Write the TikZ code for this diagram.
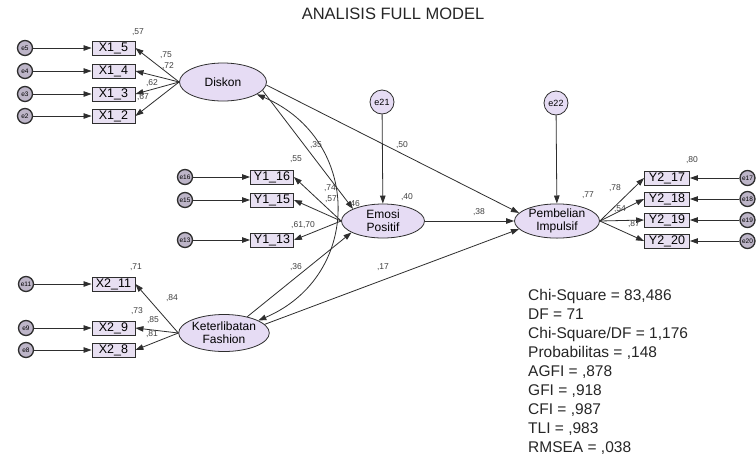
\documentclass[tikz,border=0pt]{standalone}
\usepackage{fontspec}
\setmainfont{Liberation Sans}
\usetikzlibrary{arrows.meta,shapes.geometric}

\definecolor{ink}{HTML}{2E2E2E}
\definecolor{boxfill}{HTML}{E8E0F2}
\definecolor{latfill}{HTML}{E6DCF4}
\definecolor{errfill}{HTML}{BDB5C8}

\tikzset{
  ind/.style={draw=ink, fill=boxfill, line width=0.9pt, minimum width=43pt,
    minimum height=14pt, inner sep=0pt, font=\fontsize{12.5}{12.5}\selectfont},
  lat/.style={ellipse, draw=ink, fill=latfill, line width=0.8pt, inner sep=0pt,
    align=center, font=\fontsize{12}{13}\selectfont},
  err/.style={circle, draw=ink, fill=errfill, line width=1.3pt, minimum size=15pt,
    inner sep=0pt, font=\fontsize{6.5}{6.5}\selectfont},
  dist/.style={circle, draw=ink, fill=latfill, line width=0.8pt, minimum size=24pt,
    inner sep=0pt, font=\fontsize{9}{9}\selectfont},
  coef/.style={font=\fontsize{8.5}{8.5}\selectfont, text=black!75, inner sep=0pt},
  tip/.tip={Triangle[length=8pt,width=5.5pt]},
  reg/.style={draw=ink, line width=0.8pt, -tip},
  cov/.style={draw=ink, line width=0.8pt, tip-tip},
}

\begin{document}
\begin{tikzpicture}[x=1pt,y=-1pt]
\useasboundingbox (0,0) rectangle (756,456);
\fill[white] (0,0) rectangle (756,456);

% title
\node[font=\fontsize{16.5}{16.5}\selectfont, text=black!85] (title) at (393,14) {ANALISIS FULL MODEL};

% latent variables
\node[lat, minimum width=87pt, minimum height=38pt] (dis) at (223,82) {Diskon};
\node[lat, minimum width=83pt, minimum height=34pt] (emo) at (383,221) {Emosi\\Positif};
\node[lat, minimum width=85pt, minimum height=34pt] (pem) at (557,221) {Pembelian\\Impulsif};
\node[lat, minimum width=86pt, minimum height=37pt] (ket) at (224,333) {Keterlibatan\\Fashion};

% disturbances
\node[dist] (e21) at (382,102) {e21};
\node[dist] (e22) at (556,103) {e22};
\draw[reg] (e21) -- (emo);
\draw[reg] (e22) -- (pem);

% Diskon indicators
\foreach \n/\y in {5/48,4/71,3/94,2/116} {
  \node[ind] (x1\n) at (113.5,\y) {X1\_\n};
  \node[err] (ex1\n) at (25,\y) {e\n};
  \draw[reg] (ex1\n) -- (x1\n);
  \draw[reg] (dis.west) -- (x1\n.east);
}

% Emosi Positif indicators
\foreach \n/\y in {16/177,15/200,13/240} {
  \node[ind] (y1\n) at (272,\y) {Y1\_\n};
  \node[err] (ey1\n) at (185,\y) {e\n};
  \draw[reg] (ey1\n) -- (y1\n);
  \draw[reg] (emo.west) -- (y1\n.east);
}

% Keterlibatan Fashion indicators
\foreach \n/\y in {11/284,9/328,8/350} {
  \node[ind] (x2\n) at (113.5,\y) {X2\_\n};
  \node[err] (ex2\n) at (26,\y) {e\n};
  \draw[reg] (ex2\n) -- (x2\n);
  \draw[reg] (ket.west) -- (x2\n.east);
}

% Pembelian Impulsif indicators
\foreach \n/\y in {17/178,18/199,19/220,20/241} {
  \node[ind, minimum width=45pt] (y2\n) at (667,\y) {Y2\_\n};
  \node[err] (ey2\n) at (747.5,\y) {e\n};
  \draw[reg] (ey2\n) -- (y2\n);
  \draw[reg] (pem.east) -- (y2\n.west);
}

% structural paths
\draw[reg] (dis.-12) -- (emo.158);
\draw[reg] (dis.-4) -- (pem.168);
\draw[reg] (emo.east) -- (pem.west);
\draw[reg] (ket.35) -- (emo.200);
\draw[reg] (ket.12) -- (pem.192);
\draw[cov] (dis.-20) .. controls +(105,45) and +(105,-45) .. (ket.20);

% estimates
\node[coef] (c1) at (138,32) {,57};
\node[coef] (c2) at (166,55) {,75};
\node[coef] (c3) at (168,66) {,72};
\node[coef] (c4) at (152,83) {,62};
\node[coef] (c5) at (143,97) {,67};
\node[coef] (c6) at (296,159) {,55};
\node[coef] (c7) at (330,188) {,74};
\node[coef] (c8) at (331,199) {,57};
\node[coef] (c9) at (303,225) {,61,70};
\node[coef] (c10) at (354,204) {,46};
\node[coef] (c11) at (407,197) {,40};
\node[coef] (c12) at (316,145) {,35};
\node[coef] (c13) at (402,145) {,50};
\node[coef] (c14) at (479,212) {,38};
\node[coef] (c15) at (296,267) {,36};
\node[coef] (c16) at (383,267) {,17};
\node[coef] (c17) at (588,195) {,77};
\node[coef] (c18) at (615,188) {,78};
\node[coef] (c19) at (620,209) {,54};
\node[coef] (c20) at (634,224) {,87};
\node[coef] (c21) at (692,160) {,80};
\node[coef] (c22) at (136,267) {,71};
\node[coef] (c23) at (172,298) {,84};
\node[coef] (c24) at (137,311) {,73};
\node[coef] (c25) at (153,320) {,85};
\node[coef] (c26) at (152,334) {,81};

% fit statistics
\node[anchor=north west, inner sep=0pt, align=left, text=black!85,
  font=\fontsize{15.5}{19}\selectfont] (fit) at (528,289)
  {Chi-Square = 83,486\\DF = 71\\Chi-Square/DF = 1,176\\Probabilitas = ,148\\AGFI = ,878\\GFI = ,918\\CFI = ,987\\TLI = ,983\\RMSEA = ,038};
\end{tikzpicture}
\end{document}
